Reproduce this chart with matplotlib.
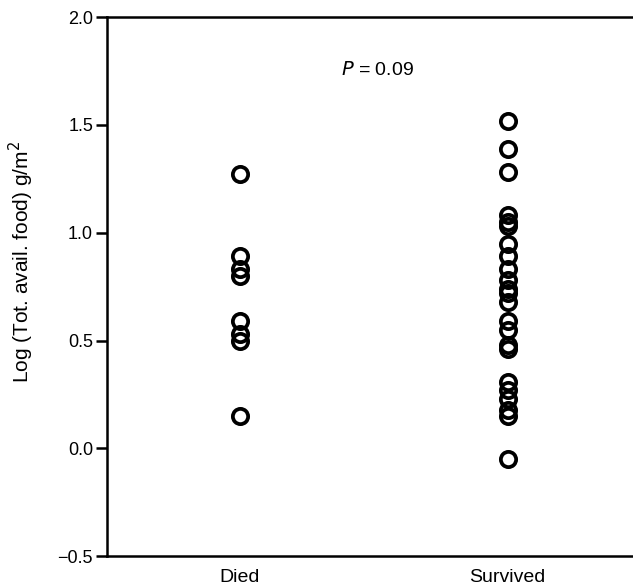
import matplotlib
matplotlib.use("Agg")
import matplotlib.pyplot as plt

plt.rcParams['font.family'] = ['Liberation Sans', 'DejaVu Sans']

groups = ['Died', 'Survived']
died = [1.27, 0.89, 0.83, 0.80, 0.59, 0.53, 0.50, 0.15]
survived = [1.52, 1.39, 1.28, 1.08, 1.05, 1.03, 0.95, 0.89, 0.83, 0.78,
            0.74, 0.72, 0.68, 0.59, 0.55, 0.48, 0.46, 0.31, 0.27, 0.23,
            0.18, 0.15, -0.05]
p_text = '$P$ = 0.09'

fig = plt.figure(figsize=(6.33, 5.88), dpi=100)
ax = fig.add_axes([0.169, 0.054, 0.831, 0.917])

for i, vals in enumerate([died, survived]):
    ax.plot([i] * len(vals), vals, linestyle='none', marker='o',
            markersize=11, markerfacecolor='none', markeredgecolor='black',
            markeredgewidth=2.7)

ax.set_xlim(-0.497, 1.468)
ax.set_ylim(-0.5, 2.0)
ax.set_yticks([-0.5, 0.0, 0.5, 1.0, 1.5, 2.0])
ax.set_yticklabels(['\u22120.5', '0.0', '0.5', '1.0', '1.5', '2.0'])
ax.set_xticks([0, 1])
ax.set_xticklabels(groups)
ax.tick_params(axis='x', length=0, pad=9, labelsize=14)
ax.tick_params(axis='y', direction='out', length=8, width=1.8, labelsize=13, pad=2)
ax.set_ylabel('Log (Tot. avail. food) g/m$^2$', fontsize=15)
ax.yaxis.set_label_coords(-0.135, 0.545)

for s in ['left', 'top', 'bottom']:
    ax.spines[s].set_linewidth(1.8)
ax.spines['right'].set_visible(False)

ax.text(0.515, 0.902, p_text, transform=ax.transAxes, ha='center', va='center',
        fontsize=14)

fig.savefig('out.png', dpi=100)
